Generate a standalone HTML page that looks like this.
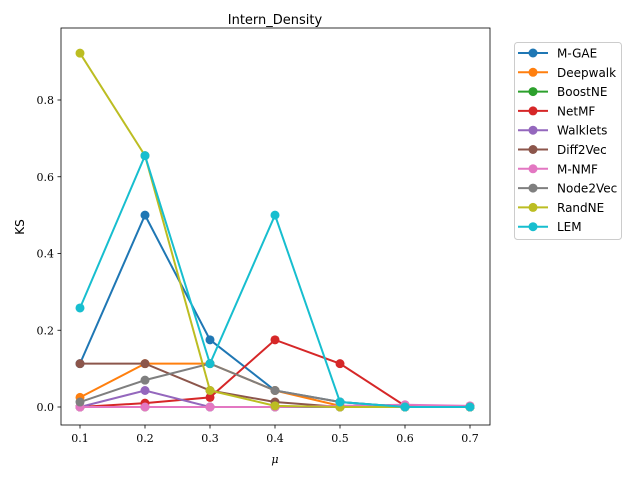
<!DOCTYPE html>
<html><head><meta charset="utf-8"><style>
body{margin:0;background:#fff}
svg text{font-family:"DejaVu Serif","Liberation Serif",serif}
svg text.sans{font-family:"DejaVu Sans","Liberation Sans",sans-serif}
</style></head><body>
<svg id="chart" width="640" height="480" xmlns="http://www.w3.org/2000/svg"></svg>
<script>
const xs=[0.1,0.2,0.3,0.4,0.5,0.6,0.7];
const names=["M-GAE","Deepwalk","BoostNE","NetMF","Walklets","Diff2Vec","M-NMF","Node2Vec","RandNE","LEM"];
const colors=["#1f77b4","#ff7f0e","#2ca02c","#d62728","#9467bd","#8c564b","#e377c2","#7f7f7f","#bcbd22","#17becf"];
const sMGAE=[0.113,0.5,0.175,0.043,0.013,0,0];
const sDeepwalk=[0.025,0.113,0.113,0.043,0.003,0,0];
const sBoostNE=[0,0,0,0,0,0,0];
const sNetMF=[0,0.01,0.025,0.175,0.113,0.003,0];
const sWalklets=[0,0.043,0,0,0,0,0];
const sDiff2Vec=[0.113,0.113,0.043,0.013,0,0,0];
const sMNMF=[0,0,0,0,0.003,0.006,0.003];
const sNode2Vec=[0.013,0.07,0.113,0.043,0.013,0,0];
const sRandNE=[0.922,0.655,0.043,0.003,0,0,0];
const sLEM=[0.258,0.655,0.113,0.5,0.013,0,0];
const series=[sMGAE,sDeepwalk,sBoostNE,sNetMF,sWalklets,sDiff2Vec,sMNMF,sNode2Vec,sRandNE,sLEM];
const yTicks=[0,0.2,0.4,0.6,0.8];
const yLabels=["0.0","0.2","0.4","0.6","0.8"];
const xLabels=["0.1","0.2","0.3","0.4","0.5","0.6","0.7"];
const svg=document.getElementById('chart');
const NS="http://www.w3.org/2000/svg";
function X(v){return 80+(v-0.1)*650;}
function Y(v){return 407-v*383.75;}
function mk(t,a,p){const e=document.createElementNS(NS,t);for(const k in a)e.setAttribute(k,a[k]);(p||svg).appendChild(e);return e;}
const frame=mk('rect',{x:61,y:28,width:429,height:397,fill:'none',stroke:'#000','stroke-width':0.8});


yTicks.forEach((v,i)=>{
 const l=mk('line',{x1:57.5,x2:61,y1:Y(v),y2:Y(v),stroke:'#000','stroke-width':0.8});
 
 
 const t=mk('text',{x:54,y:Y(v)+4,'font-size':11,'text-anchor':'end'});t.textContent=yLabels[i];
 
 
});
xs.forEach((v,i)=>{
 const l=mk('line',{x1:X(v),x2:X(v),y1:425,y2:428.5,stroke:'#000','stroke-width':0.8});
 
 
 const t=mk('text',{x:X(v),y:442,'font-size':11,'text-anchor':'middle'});t.textContent=xLabels[i];
 
 
});
series.forEach((s,k)=>{
 const g=mk('g',{});
 
 
 mk('polyline',{points:s.map((v,i)=>X(xs[i])+','+Y(v)).join(' '),fill:'none',stroke:colors[k],'stroke-width':2},g);
 s.forEach((v,i)=>{const c=mk('circle',{cx:X(xs[i]),cy:Y(v),r:4.5,fill:colors[k]},g);
  
  });
});
const title=mk('text',{x:275,y:24,'font-size':13,'text-anchor':'middle',class:'sans'});title.textContent="Intern_Density";


const xt=mk('text',{x:275,y:463,'font-size':11,'text-anchor':'middle','font-style':'italic'});xt.textContent="μ";


const yt=mk('text',{x:24,y:227,'font-size':12,'text-anchor':'middle',class:'sans',transform:'rotate(-90 24 227)'});yt.textContent="KS";


const lg=mk('g',{});


mk('rect',{x:514.5,y:42.5,width:107,height:197,rx:3,fill:'#fff',stroke:'#ccc'},lg);
names.forEach((n,k)=>{
 const y=53+k*19.3;
 const e=mk('g',{},lg);
 
 
 mk('line',{x1:518,x2:548,y1:y,y2:y,stroke:colors[k],'stroke-width':2},e);
 mk('circle',{cx:533,cy:y,r:4.5,fill:colors[k]},e);
 const t=mk('text',{x:557,y:y+4.5,'font-size':12,class:'sans'},e);t.textContent=n;
});
</script>
</body></html>
